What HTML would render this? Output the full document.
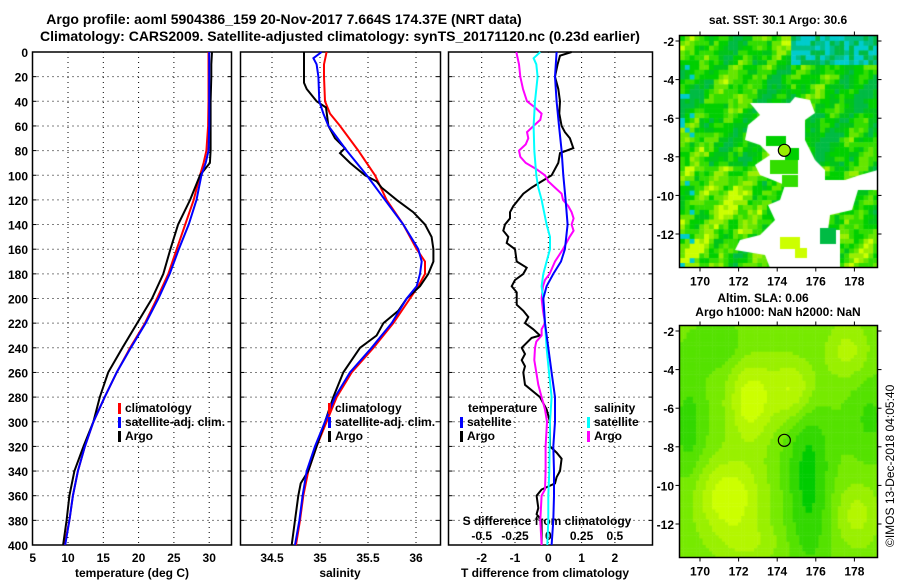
<!DOCTYPE html>
<html><head><meta charset="utf-8">
<style>
html,body{margin:0;padding:0;background:#fff;}
#wrap{position:relative;width:900px;height:580px;overflow:hidden;font-family:"Liberation Sans",sans-serif;}
svg text{font-family:"Liberation Sans",sans-serif;font-weight:bold;fill:#000;}
canvas{position:absolute;}
</style></head>
<body>
<div id="wrap">
<canvas id="map1" width="198" height="232" style="left:680px;top:36px"></canvas>
<canvas id="map2" width="198" height="232" style="left:680px;top:326px"></canvas>
<svg id="chart" width="900" height="580" style="position:absolute;left:0;top:0">
<text x="284" y="24" font-size="14" text-anchor="middle">Argo profile: aoml 5904386_159 20-Nov-2017 7.664S 174.37E (NRT data)</text>
<text x="340" y="41" font-size="14" text-anchor="middle">Climatology: CARS2009. Satellite-adjusted climatology: synTS_20171120.nc (0.23d earlier)</text>
<text x="778" y="24" font-size="12" text-anchor="middle">sat. SST: 30.1 Argo: 30.6</text>
<text x="763" y="302" font-size="12" text-anchor="middle">Altim. SLA: 0.06</text>
<text x="778" y="316" font-size="12" text-anchor="middle">Argo h1000: NaN h2000: NaN</text>
<text transform="translate(894,547) rotate(-90)" font-size="12" font-weight="normal" style="font-weight:normal">©IMOS 13-Dec-2018 04:05:40</text>
</svg>
</div>
<script>
// ---------- data ----------
const depthT = [0,10,20,40,60,80,90,100,120,140,160,180,200,220,240,260,280,300,320,340,360,380,400];
const climT = [29.9,29.9,29.9,29.9,29.85,29.6,29.2,28.7,27.8,26.6,25.4,24.2,22.6,20.9,18.8,16.9,15.2,13.6,12.4,11.4,10.7,10.2,9.5];
const satT  = [30.0,30.0,30.0,30.0,30.0,29.9,29.5,28.9,28.2,27.1,25.7,24.4,22.8,21.0,18.9,16.9,15.2,13.6,12.4,11.4,10.7,10.2,9.6];
const argoT = [30.4,30.3,30.3,30.2,30.2,30.2,30.1,28.7,27.3,25.6,24.5,23.5,21.9,19.8,17.7,15.7,14.5,13.6,12.2,10.9,10.2,9.8,9.3];

const depthS = [0,10,20,40,50,60,80,100,120,140,160,170,180,190,200,220,240,260,280,300,320,340,360,380,400];
const climS = [35.069,35.042,35.042,35.052,35.104,35.208,35.399,35.573,35.694,35.868,36.007,36.094,36.094,36.024,35.938,35.764,35.556,35.33,35.174,35.069,34.965,34.878,34.826,34.792,34.75];
const depthSatS = [0,5,10,20,40,50,60,80,100,120,140,160,170,180,190,200,220,240,260,280,300,320,340,360,380,400];
const satS = [35.017,34.931,34.965,34.983,34.993,35.035,35.087,35.278,35.486,35.677,35.868,36.024,36.059,36.042,36.007,35.903,35.747,35.538,35.313,35.156,35.052,34.948,34.861,34.819,34.785,34.74];
const depthArgoS = [0,10,20,25,30,40,45,60,70,78,82,90,100,105,110,120,130,140,150,160,170,180,190,200,210,220,230,240,260,280,300,320,340,350,360,380,400];
const argoS = [34.833,34.833,34.833,34.833,34.861,34.965,35.063,35.087,35.156,35.26,35.208,35.313,35.469,35.59,35.642,35.799,35.972,36.094,36.163,36.181,36.181,36.128,36.042,35.903,35.816,35.66,35.59,35.417,35.243,35.139,35.052,34.965,34.878,34.799,34.774,34.74,34.705];

const depthSatDT = [0,20,40,60,80,100,120,140,160,170,180,190,200,220,240,260,270,280,300,320,340,360,380,400];
const satDT = [0.25,0.2,0.25,0.32,0.40,0.45,0.52,0.58,0.50,0.38,0.15,-0.05,-0.15,-0.1,0,0.1,0.15,0.2,0.2,0.15,0.17,0.17,0.15,0.1];
const depthArgoDT = [0,3,10,20,30,40,50,60,65,70,78,82,90,100,105,110,115,120,125,130,135,140,145,150,155,160,170,175,180,185,190,195,200,205,210,215,220,225,230,232,240,245,250,255,260,270,280,290,300,320,325,330,340,345,350,355,360,370,375,380,390,400];
const argoDT = [0.7,0.35,0.28,0.2,0.3,0.35,0.33,0.4,0.5,0.65,0.75,0.35,0.3,0.1,-0.2,-0.5,-0.75,-0.9,-1.05,-1.15,-1.15,-1.3,-1.35,-1.2,-1.25,-1.0,-0.95,-0.65,-0.75,-1.0,-1.1,-0.95,-0.95,-0.95,-0.75,-0.6,-0.7,-0.45,-0.25,-0.5,-0.8,-0.7,-0.8,-0.7,-0.75,-0.7,-0.25,-0.05,0.05,0.05,0.25,0.4,0.35,0.25,0.2,-0.2,-0.35,-0.3,-0.35,-0.2,-0.2,-0.2];
const depthArgoDS = [0,10,20,30,40,45,50,55,60,65,70,75,80,85,90,95,100,105,110,115,120,125,130,135,140,145,150,160,170,180,185,190,200,210,220,225,230,235,240,250,260,270,280,290,300,320,340,355,360,380,400];
const argoDS = [-0.24,-0.22,-0.21,-0.19,-0.16,-0.1,-0.05,-0.06,-0.11,-0.16,-0.15,-0.17,-0.22,-0.21,-0.17,-0.09,-0.025,0,0.05,0.1,0.11,0.15,0.175,0.19,0.175,0.19,0.16,0.11,0.05,0.01,-0.025,-0.04,-0.05,-0.04,-0.025,-0.05,-0.05,-0.09,-0.1,-0.105,-0.09,-0.075,-0.05,-0.025,-0.01,-0.02,-0.02,-0.025,-0.05,-0.06,-0.05];
const depthSatDS = [0,5,10,20,40,60,80,100,110,120,140,150,160,170,180,190,200,220,240,260,270,280,300,340,360,380,400];
const satDS = [-0.06,-0.11,-0.09,-0.08,-0.1,-0.11,-0.105,-0.09,-0.075,-0.05,-0.0125,0.0125,0.0125,-0.0125,-0.0375,-0.05,-0.0375,-0.025,-0.0125,0.005,0.015,0.025,0.0125,0.0075,0,0,-0.0075];

const depthTicks = [0,20,40,60,80,100,120,140,160,180,200,220,240,260,280,300,320,340,360,380,400];
const tTicks = [5,10,15,20,25,30];
const sTicks = [34.5,35,35.5,36];
const dtTicks = [-2,-1,0,1,2];
const dsTicks = [-0.5,-0.25,0,0.25,0.5];
const dsTickLabels = ['-0.5','-0.25','0','0.25','0.5'];
const lonTicks = [170,172,174,176,178];
const latTicks = [-2,-4,-6,-8,-10,-12];
const argoLon = 174.37, argoLat = -7.664;

// ---------- axes ----------
const NS='http://www.w3.org/2000/svg';
const svg=document.getElementById('chart');
function el(tag,attrs,parent){const e=document.createElementNS(NS,tag);for(const k in attrs)e.setAttribute(k,attrs[k]);(parent||svg).appendChild(e);return e;}
const Y0=52,Y1=545;
const yD=d=>Y0+d*1.2325;
const P1={x0:32.5,x1:231.5}, P2={x0:240.5,x1:440.5}, P3={x0:448.5,x1:652.5};
const xT=v=>32.7+(v-5)*7.06;
const xS=v=>320+(v-35)*96;
const xDT=v=>548.3+v*33.3;
const xDS=v=>548.3+v*133.2;

function panel(P,name,vticks,xf){
  const g=el('g',{});
  
  
  depthTicks.forEach(d=>{ if(d>0&&d<400){
    const l=el('line',{x1:P.x0,x2:P.x1,y1:yD(d),y2:yD(d),stroke:'#000','stroke-width':1,'stroke-dasharray':'1,4'},g);
    
    
    el('line',{x1:P.x0,x2:P.x0+4,y1:yD(d),y2:yD(d),stroke:'#000'},g);
    el('line',{x1:P.x1-4,x2:P.x1,y1:yD(d),y2:yD(d),stroke:'#000'},g);
  }});
  vticks.forEach(v=>{const x=xf(v); if(x>P.x0+2&&x<P.x1-2){
    const l=el('line',{x1:x,x2:x,y1:Y0,y2:Y1,stroke:'#000','stroke-width':1,'stroke-dasharray':'1,4'},g);
    
    
  }});
  const r=el('rect',{x:P.x0,y:Y0,width:P.x1-P.x0,height:Y1-Y0,fill:'none',stroke:'#000','stroke-width':1.5},g);
  
  
  return g;
}
const g1=panel(P1,'temperature-panel',tTicks,xT);
const g2=panel(P2,'salinity-panel',sTicks,xS);
const g3=panel(P3,'difference-panel',dtTicks,xDT);

depthTicks.forEach(d=>{
  const t=el('text',{x:28,y:yD(d)+5,'font-size':12,'text-anchor':'end'});
  t.textContent=d;
  
  
});
function xlabels(ticks,xf,y,labels){
  ticks.forEach((v,i)=>{const t=el('text',{x:xf(v),y:y,'font-size':12,'text-anchor':'middle'});
    t.textContent=labels?labels[i]:v;
    
    });
}
xlabels(tTicks,xT,562);
xlabels(sTicks,xS,562);
xlabels(dtTicks,xDT,562);
xlabels(dsTicks,xDS,540,dsTickLabels);
function lab(txt,x,y,name,anchor){const t=el('text',{x:x,y:y,'font-size':12,'text-anchor':anchor||'middle'});t.textContent=txt;
  
  return t;}
lab('temperature (deg C)',132,577,'temperature-axis-title');
lab('salinity',340,577,'salinity-axis-title');
lab('T difference from climatology',545,577,'t-difference-axis-title');
lab('S difference from climatology',547,525,'s-difference-axis-title');

function line(ds,vs,xf,color,name,w){
  const pts=ds.map((d,i)=>xf(vs[i]).toFixed(1)+','+yD(d).toFixed(1)).join(' ');
  const p=el('polyline',{points:pts,fill:'none',stroke:color,'stroke-width':w||2,'stroke-linejoin':'miter'});
  
  
}
line(depthT,climT,xT,'#ff0000','climatology-temperature-line');
line(depthT,argoT,xT,'#000000','argo-temperature-line');
line(depthT,satT,xT,'#0000ff','satellite-temperature-line');
line(depthS,climS,xS,'#ff0000','climatology-salinity-line');
line(depthArgoS,argoS,xS,'#000000','argo-salinity-line');
line(depthSatS,satS,xS,'#0000ff','satellite-salinity-line');
line(depthArgoDT,argoDT,xDT,'#000000','argo-t-difference-line');
line(depthArgoDS,argoDS,xDS,'#ff00ff','argo-s-difference-line');
line(depthSatDS,satDS,xDS,'#00ffff','satellite-s-difference-line');
line(depthSatDT,satDT,xDT,'#0000ff','satellite-t-difference-line');

function legendEntry(x,y,color,txt,name){
  const r=el('rect',{x:x,y:y-9,width:3,height:11,fill:color});
  
  
  lab(txt,x+7,y,name,'start');
}
legendEntry(118,412,'#ff0000','climatology','legend-climatology');
legendEntry(118,426,'#0000ff','satellite-adj. clim.','legend-satellite-adj');
legendEntry(118,440,'#000000','Argo','legend-argo');
legendEntry(328,412,'#ff0000','climatology','legend-climatology-salinity');
legendEntry(328,426,'#0000ff','satellite-adj. clim.','legend-satellite-adj-salinity');
legendEntry(328,440,'#000000','Argo','legend-argo-salinity');
lab('temperature',468,412,'legend-temperature-heading','start');
legendEntry(460,426,'#0000ff','satellite','legend-temperature-satellite');
legendEntry(460,440,'#000000','Argo','legend-temperature-argo');
lab('salinity',594,412,'legend-salinity-heading','start');
legendEntry(587,426,'#00ffff','satellite','legend-salinity-satellite');
legendEntry(587,440,'#ff00ff','Argo','legend-salinity-argo');

// ---------- maps ----------
const M={x0:679.5,x1:877.5};
const lonX=l=>700+(l-170)*19.3;
function mapAxes(top,lat0y,name){
  const latY=la=>lat0y+(-2-la)*19.3;
  const r=el('rect',{x:M.x0,y:top,width:M.x1-M.x0,height:232,fill:'none',stroke:'#000','stroke-width':1.5});
  
  
  lonTicks.forEach(l=>{const x=lonX(l);
    el('line',{x1:x,x2:x,y1:top,y2:top-4,stroke:'#000'});
    el('line',{x1:x,x2:x,y1:top+232,y2:top+236,stroke:'#000'});
    const t=el('text',{x:x,y:top+250,'font-size':12,'text-anchor':'middle'});t.textContent=l;
    
    });
  latTicks.forEach(la=>{const y=latY(la);
    el('line',{x1:M.x0,x2:M.x0-4,y1:y,y2:y,stroke:'#000'});
    el('line',{x1:M.x1,x2:M.x1+4,y1:y,y2:y,stroke:'#000'});
    const t=el('text',{x:674,y:y+5,'font-size':12,'text-anchor':'end'});t.textContent=la;
    
    });
  const c=el('circle',{cx:lonX(argoLon),cy:latY(argoLat),r:6,fill:name==='sst-map'?'#99ee00':'none',stroke:'#000','stroke-width':1.2});
  
  
}
mapAxes(35.5,41,'sst-map');
mapAxes(325.5,331,'sla-map');

// texture fields (imagery, not chart data)
let seed=7;function rnd(){seed=(seed*16807)%2147483647;return seed/2147483647;}
(function(){
  const c=document.getElementById('map1').getContext('2d');
  const pal=['#00bb44','#00c41a','#00d000','#33dd00','#66e600','#99ee00','#ccff00','#00c088','#00cccc'];
  const cs=4.83;
  for(let j=0;j<48;j++)for(let i=0;i<41;i++){
    const x=i*cs,y=j*cs;
    let v=0.4+0.22*Math.sin(i*0.35+1)*Math.cos(j*0.28)+0.2*Math.sin(i*0.9+j*0.7)+0.35*(rnd()-0.5);
    if(j>26) v+=0.12*(1-i/41)+0.1;
    if(i>26&&j<28&&j>8) v-=0.1;
    let k;
    if(i>22&&j<6) k=rnd()<0.35?8:(rnd()<0.6?7:0);
    else if(i<3&&rnd()<0.2) k=8;
    else k=Math.max(0,Math.min(6,Math.floor(v*7)));
    c.fillStyle=pal[k];c.fillRect(x,y,cs+0.5,cs+0.5);
  }
  c.fillStyle='#fff';c.beginPath();
  const poly=[[750,103],[790,103],[795,97],[810,100],[815,113],[805,120],[805,140],[815,160],[825,170],[825,180],[845,180],[860,175],[878,170],[878,190],[858,190],[852,210],[830,215],[828,230],[840,230],[840,268],[770,268],[765,255],[735,250],[740,240],[760,235],[775,220],[768,205],[780,200],[785,185],[760,175],[755,165],[770,155],[760,145],[745,140],[748,125],[760,115]];
  poly.forEach((p,i)=>{const x=p[0]-680,y=p[1]-36;if(i)c.lineTo(x,y);else c.moveTo(x,y);});c.fill();
  c.fillStyle='#00d000';c.fillRect(766-680,136-36,20,10);c.fillRect(785-680,148-36,14,12);
  c.fillStyle='#33dd00';c.fillRect(770-680,160-36,28,14);c.fillRect(782-680,175-36,16,12);
  c.fillStyle='#ccff00';c.fillRect(780-680,237-36,20,12);c.fillRect(795-680,248-36,12,10);
  c.fillStyle='#00bb44';c.fillRect(820-680,228-36,16,16);
})();
(function(){
  const c=document.getElementById('map2').getContext('2d');
  const pal=['#00cc00','#33d800','#55e200','#77ea00','#99f000','#b4f600','#ccff00'];
  const g=(x,y,cx,cy,sx,sy)=>Math.exp(-((x-cx)*(x-cx))/(2*sx*sx)-((y-cy)*(y-cy))/(2*sy*sy));
  const cs=3.22;
  for(let j=0;j<73;j++)for(let i=0;i<62;i++){
    const lon=168.95+(i+0.5)*cs/19.3, lat=-1.7-(j+0.5)*cs/19.3;
    let v=0.55+0.55*g(lon,lat,172.6,-5.6,0.8,1.6)+0.55*g(lon,lat,174.9,-5.0,0.9,1.2)
      +0.6*g(lon,lat,171.5,-10.6,1.2,1.4)+0.35*g(lon,lat,177.6,-3.0,0.8,1.0)
      +0.35*g(lon,lat,178.1,-11.5,0.8,1.2)+0.25*g(lon,lat,172.5,-13,1.2,0.8)
      -0.45*g(lon,lat,175.6,-9.5,0.8,3.5)-0.3*g(lon,lat,169.4,-7,0.6,2)-0.25*g(lon,lat,178.8,-6.5,0.8,1.5)
      -0.2*g(lon,lat,171,-2.8,1,0.8);
    const k=Math.max(0,Math.min(6,Math.floor(v*6)));
    c.fillStyle=pal[k];c.fillRect(i*cs,j*cs,cs+0.5,cs+0.5);
  }
})();
</script>
</body></html>
